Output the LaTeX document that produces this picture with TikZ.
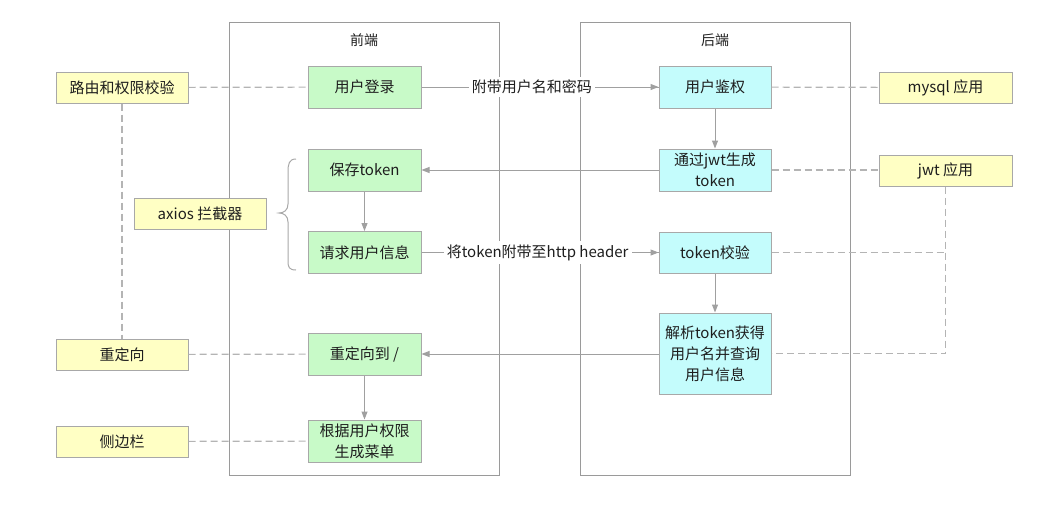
\documentclass[tikz,border=0pt]{standalone}
\usepackage{fontspec}
\setmainfont{Noto Sans CJK SC}
\usetikzlibrary{arrows.meta}
\definecolor{boxline}{HTML}{A8A8A8}
\definecolor{frameline}{HTML}{9A9A9A}
\definecolor{linkline}{HTML}{A0A0A0}
\definecolor{dashline}{HTML}{B4B4B4}
\definecolor{greenfill}{HTML}{C8FAC8}
\definecolor{cyanfill}{HTML}{C4FCFC}
\definecolor{yellowfill}{HTML}{FFFFC4}
\definecolor{ink}{HTML}{1E1E1E}
\tikzset{
  base/.style={draw=boxline, line width=1pt, font=\fontsize{15}{21}\selectfont, text=ink, align=center, inner sep=0pt},
  front/.style={base, fill=greenfill, minimum width=113pt, minimum height=42pt},
  back/.style={base, fill=cyanfill, minimum width=112pt, minimum height=42pt},
  note/.style={base, fill=yellowfill, minimum width=132pt, minimum height=31pt},
  frame/.style={draw=frameline, line width=1pt},
  flow/.style={draw=linkline, line width=1pt, -{Triangle[length=8pt,width=6pt]}},
  plain/.style={draw=linkline, line width=1pt},
  link/.style={draw=dashline, line width=1.2pt, dash pattern=on 7pt off 4pt},
  tag/.style={fill=white, text=ink, font=\fontsize{15}{18}\selectfont, inner sep=3pt},
  title/.style={text=ink, font=\fontsize{14}{17}\selectfont}
}
\begin{document}
\begin{tikzpicture}[x=1pt, y=-1pt]
\useasboundingbox (0,0) rectangle (1057,506);

% swimlanes
\draw[frame] (229,22) rectangle (499,475);
\draw[frame] (580,22) rectangle (850,475);
\node[title] (ftitle) at (364,40) {前端};
\node[title] (btitle) at (715,40) {后端};

% front end steps
\node[front] (login)    at (364.5,87)   {用户登录};
\node[front] (save)     at (364.5,170)  {保存token};
\node[front] (request)  at (364.5,252.5){请求用户信息};
\node[front] (redirect) at (364.5,354)  {重定向到 /};
\node[front] (menu)     at (364.5,441)  {根据用户权限\\生成菜单};

% back end steps
\node[back] (auth)   at (715,87)    {用户鉴权};
\node[back] (jwtgen) at (715,170)   {通过jwt生成\\token};
\node[back, minimum height=41pt] (check) at (715,252.5) {token校验};
\node[back, minimum height=81pt] (parse) at (715,353.5) {解析token获得\\用户名并查询\\用户信息};

% side notes
\node[note] (route)    at (122,87.5)  {路由和权限校验};
\node[note] (axios)    at (200,213.5) {axios 拦截器};
\node[note] (redir)    at (122,354.5) {重定向};
\node[note] (sidebar)  at (122,441.5) {侧边栏};
\node[note, minimum width=133pt] (mysql) at (945.5,87.5)  {mysql 应用};
\node[note, minimum width=133pt] (jwtapp) at (945.5,170.5) {jwt 应用};

% dashed associations
\draw[link] (route) -- (login);
\draw[link] (route) -- (redir);
\draw[link] (redir) -- (redirect);
\draw[link] (sidebar) -- (menu);
\draw[link] (auth) -- (mysql);
\draw[link] (jwtgen.east) -- (jwtgen.east -| jwtapp.west);
\draw[link] (jwtapp.south) -- (jwtapp.south |- parse.east) -- (parse.east);
\draw[link] (check) -- (check -| jwtapp.south);

% request flow
\draw[plain] (login) -- node[tag, pos=0.466] (lbl1) {附带用户名和密码} (auth);
\draw[flow] (lbl1) -- (auth);
\draw[flow] (auth) -- (jwtgen);
\draw[flow] (jwtgen) -- (save);
\draw[flow] (save) -- (request);
\draw[plain] (request) -- node[tag, pos=0.49] (lbl2) {将token附带至http header} (check);
\draw[flow] (lbl2) -- (check);
\draw[flow] (check) -- (parse);
\draw[flow] (parse.west |- redirect) -- (redirect);
\draw[flow] (redirect) -- (menu);

% brace grouping the two intercepted steps
\coordinate (btop) at (296,159);
\coordinate (btip) at (279,213);
\coordinate (bbot) at (296,270);
\draw[draw=boxline, line width=1pt]
  (btop) .. controls (289,159) and (288,164) .. (288,172)
  -- (288,204) .. controls (288,210) and (284,213) .. (btip)
  .. controls (284,213) and (288,216) .. (288,222)
  -- (288,261) .. controls (288,267) and (289,270) .. (bbot);
\end{tikzpicture}
\end{document}
